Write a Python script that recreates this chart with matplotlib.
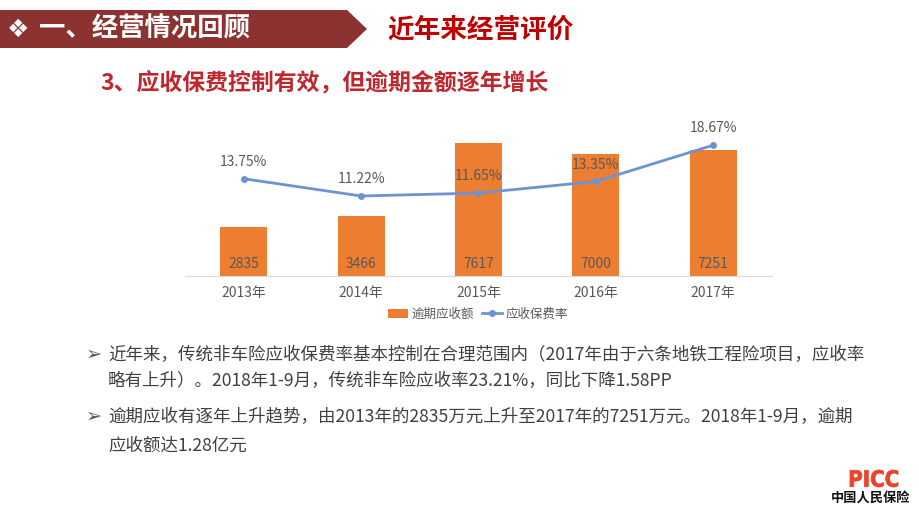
import matplotlib
matplotlib.use("Agg")
import matplotlib.pyplot as plt
from matplotlib.patches import Polygon, Rectangle, PathPatch
from matplotlib.lines import Line2D
from matplotlib.textpath import TextPath
from matplotlib.font_manager import FontProperties
from matplotlib.transforms import Affine2D

plt.rcParams['font.family'] = ['Noto Sans CJK SC', 'DejaVu Sans']

years = ["2013年", "2014年", "2015年", "2016年", "2017年"]
overdue = [2835, 3466, 7617, 7000, 7251]
rate = [13.75, 11.22, 11.65, 13.35, 18.67]
rate_labels = ["13.75%", "11.22%", "11.65%", "13.35%", "18.67%"]

W, H = 920, 518
fig = plt.figure(figsize=(W / 100, H / 100), dpi=100)
fig.patch.set_facecolor("white")

def fx(x):
    return x / W

def fy(y):
    return 1 - y / H

# Header banner
banner = Polygon([(fx(0), fy(10)), (fx(347), fy(10)), (fx(367), fy(29)),
                  (fx(347), fy(48)), (fx(0), fy(48))], closed=True,
                 transform=fig.transFigure, facecolor="#8C3230", edgecolor="none")
fig.patches.append(banner)
fig.text(fx(18), fy(30), "❖", color="white", fontsize=18, family=["DejaVu Sans"],
         ha="center", va="center")
fig.text(fx(39), fy(29), "一、经营情况回顾", color="white", fontsize=19, fontweight="bold",
         ha="left", va="center")
fig.text(fx(387), fy(30), "近年来经营评价", color="#C00000", fontsize=19.2, fontweight="bold",
         ha="left", va="center")

# Subtitle
fig.text(fx(100), fy(83), "3、应收保费控制有效，但逾期金额逐年增长", color="#C0272D",
         fontsize=16.5, fontweight="bold", ha="left", va="center")

# Chart
ax = fig.add_axes([fx(185), fy(276), fx(772 - 185), (276 - 119) / H])
x = list(range(len(years)))
ax.bar(x, overdue, width=0.4, color="#ED7D31", zorder=2)
ax.set_xlim(-0.5, 4.5)
ax.set_ylim(0, 9000)
for s in ["top", "right", "left"]:
    ax.spines[s].set_visible(False)
ax.spines["bottom"].set_color("#D9D9D9")
ax.set_yticks([])
ax.set_xticks(x)
ax.set_xticklabels(years, fontsize=10, color="#595959")
ax.tick_params(axis="x", length=0, pad=7)
for xi, v in zip(x, overdue):
    ax.text(xi, 0.075, str(v), transform=ax.get_xaxis_transform(), ha="center",
            va="center", fontsize=10, color="#595959", zorder=4)

ax2 = ax.twinx()
ax2.set_ylim(-0.5, 22.5)
ax2.plot(x, rate, color="#6E93D3", linewidth=2, marker="o", markersize=4, zorder=3)
ax2.set_yticks([])
for s in ["top", "right", "left", "bottom"]:
    ax2.spines[s].set_visible(False)
for xi, v, lab in zip(x, rate, rate_labels):
    ax2.annotate(lab, (xi, v), xytext=(0, 12), textcoords="offset points",
                 ha="center", va="center", fontsize=10, color="#595959")

# Legend
handles = [Rectangle((0, 0), 1, 1, facecolor="#ED7D31"),
           Line2D([0], [0], color="#6E93D3", linewidth=2, marker="o", markersize=4)]
fig.legend(handles, ["逾期应收额", "应收保费率"], loc="center", bbox_to_anchor=(fx(478), fy(314)),
           ncol=2, frameon=False, fontsize=9, labelcolor="#595959", handlelength=1.6,
           handletextpad=0.3, columnspacing=0.6)

# Bullet text
txt_color = "#404040"
lines = [
    (355, True, "近年来，传统非车险应收保费率基本控制在合理范围内（2017年由于六条地铁工程险项目，应收率"),
    (381, False, "略有上升）。2018年1-9月，传统非车险应收率23.21%，同比下降1.58PP"),
    (417, True, "逾期应收有逐年上升趋势，由2013年的2835万元上升至2017年的7251万元。2018年1-9月，逾期"),
    (446, False, "应收额达1.28亿元"),
]
for y, bullet, t in lines:
    if bullet:
        fig.text(fx(94), fy(y - 1), "➢", color="#595959", fontsize=14, family=["DejaVu Sans"],
                 ha="center", va="center")
    fig.text(fx(108), fy(y), t, color=txt_color, fontsize=12.6, ha="left", va="center")

# Logo: condensed heavy "PICC"
tp = TextPath((0, 0), "PICC", size=1,
              prop=FontProperties(family=["DejaVu Sans"], weight="bold"))
bb = tp.get_extents()
tw, th = 48.0, 17.0
sx, sy = tw / bb.width, th / bb.height
tr = Affine2D().translate(-bb.x0, -bb.y0).scale(sx, sy).translate(850, H - 487)
logo = PathPatch(tp, transform=tr, facecolor="#E8452C", edgecolor="#E8452C", linewidth=0.6)
fig.patches.append(logo)
fig.text(fx(871), fy(499), "中国人民保险", color="#111111", fontsize=9.5, fontweight="bold",
         ha="center", va="center")

fig.savefig("out.png", dpi=100)
